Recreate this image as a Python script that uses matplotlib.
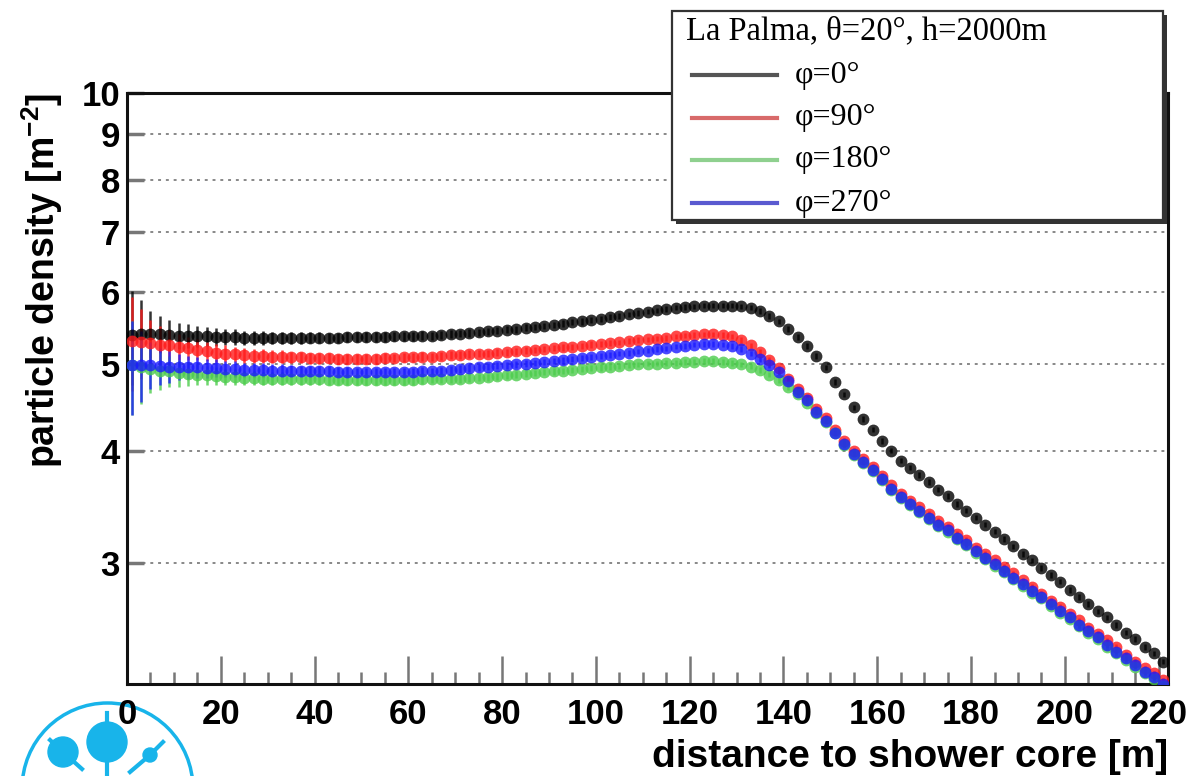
import matplotlib
matplotlib.use("Agg")
import matplotlib.pyplot as plt
from matplotlib.lines import Line2D
from matplotlib.patches import Rectangle, Circle
import numpy as np

plt.rcParams['font.family'] = ['Liberation Sans', 'DejaVu Sans']
plt.rcParams['mathtext.fontset'] = 'custom'
plt.rcParams['mathtext.rm'] = 'Liberation Sans:bold'
plt.rcParams['mathtext.bf'] = 'Liberation Sans:bold'

# ---------------- data ----------------
distance = [1, 3, 5, 7, 9, 11, 13, 15, 17, 19,
            21, 23, 25, 27, 29, 31, 33, 35, 37, 39,
            41, 43, 45, 47, 49, 51, 53, 55, 57, 59,
            61, 63, 65, 67, 69, 71, 73, 75, 77, 79,
            81, 83, 85, 87, 89, 91, 93, 95, 97, 99,
            101, 103, 105, 107, 109, 111, 113, 115, 117, 119,
            121, 123, 125, 127, 129, 131, 133, 135, 137, 139,
            141, 143, 145, 147, 149, 151, 153, 155, 157, 159,
            161, 163, 165, 167, 169, 171, 173, 175, 177, 179,
            181, 183, 185, 187, 189, 191, 193, 195, 197, 199,
            201, 203, 205, 207, 209, 211, 213, 215, 217, 219,
            221]

phi0 = [5.38, 5.40, 5.40, 5.39, 5.38, 5.37, 5.37, 5.36, 5.36, 5.35,
        5.35, 5.35, 5.34, 5.34, 5.34, 5.34, 5.34, 5.34, 5.34, 5.34,
        5.34, 5.34, 5.34, 5.35, 5.35, 5.35, 5.35, 5.35, 5.36, 5.36,
        5.36, 5.37, 5.37, 5.38, 5.39, 5.40, 5.41, 5.42, 5.43, 5.44,
        5.45, 5.46, 5.48, 5.49, 5.51, 5.52, 5.54, 5.56, 5.57, 5.59,
        5.61, 5.63, 5.65, 5.67, 5.69, 5.71, 5.73, 5.75, 5.77, 5.78,
        5.79, 5.80, 5.80, 5.80, 5.80, 5.79, 5.77, 5.72, 5.65, 5.57,
        5.46, 5.35, 5.23, 5.10, 4.95, 4.77, 4.62, 4.47, 4.34, 4.22,
        4.10, 4.00, 3.90, 3.83, 3.76, 3.69, 3.62, 3.56, 3.49, 3.43,
        3.37, 3.31, 3.25, 3.19, 3.13, 3.07, 3.02, 2.96, 2.91, 2.86,
        2.80, 2.75, 2.70, 2.65, 2.61, 2.56, 2.51, 2.47, 2.42, 2.38,
        2.33]

phi90 = [5.30, 5.28, 5.27, 5.25, 5.24, 5.22, 5.20, 5.18, 5.16, 5.14,
         5.13, 5.12, 5.11, 5.10, 5.10, 5.09, 5.09, 5.08, 5.08, 5.07,
         5.07, 5.07, 5.06, 5.06, 5.06, 5.06, 5.06, 5.07, 5.07, 5.08,
         5.08, 5.09, 5.09, 5.10, 5.11, 5.11, 5.12, 5.13, 5.13, 5.14,
         5.15, 5.16, 5.17, 5.18, 5.19, 5.20, 5.21, 5.22, 5.23, 5.25,
         5.26, 5.27, 5.28, 5.30, 5.31, 5.32, 5.33, 5.34, 5.36, 5.37,
         5.38, 5.39, 5.39, 5.38, 5.36, 5.31, 5.24, 5.15, 5.05, 4.94,
         4.81, 4.68, 4.58, 4.45, 4.35, 4.22, 4.10, 4.00, 3.92, 3.84,
         3.75, 3.66, 3.58, 3.52, 3.46, 3.40, 3.34, 3.29, 3.23, 3.18,
         3.12, 3.07, 3.02, 2.97, 2.92, 2.87, 2.82, 2.77, 2.72, 2.68,
         2.63, 2.59, 2.54, 2.50, 2.46, 2.42, 2.37, 2.33, 2.29, 2.26,
         2.22]

phi180 = [4.98, 4.95, 4.93, 4.91, 4.90, 4.88, 4.87, 4.86, 4.85, 4.84,
          4.83, 4.83, 4.82, 4.82, 4.81, 4.81, 4.81, 4.80, 4.80, 4.80,
          4.80, 4.79, 4.79, 4.79, 4.79, 4.79, 4.79, 4.79, 4.79, 4.79,
          4.79, 4.80, 4.80, 4.80, 4.81, 4.81, 4.82, 4.82, 4.83, 4.84,
          4.85, 4.86, 4.87, 4.88, 4.89, 4.90, 4.91, 4.92, 4.93, 4.94,
          4.95, 4.96, 4.97, 4.98, 4.99, 5.00, 5.00, 5.01, 5.01, 5.02,
          5.02, 5.03, 5.03, 5.02, 5.01, 4.99, 4.96, 4.92, 4.86, 4.79,
          4.71, 4.62, 4.52, 4.41, 4.31, 4.18, 4.06, 3.96, 3.88, 3.80,
          3.71, 3.62, 3.54, 3.48, 3.42, 3.36, 3.30, 3.25, 3.19, 3.14,
          3.08, 3.03, 2.98, 2.93, 2.88, 2.83, 2.78, 2.74, 2.69, 2.64,
          2.60, 2.55, 2.51, 2.47, 2.42, 2.38, 2.34, 2.30, 2.26, 2.23,
          2.19]

phi270 = [4.98, 4.98, 4.98, 4.97, 4.96, 4.96, 4.95, 4.95, 4.94, 4.94,
          4.93, 4.93, 4.92, 4.92, 4.92, 4.91, 4.91, 4.91, 4.90, 4.90,
          4.90, 4.90, 4.89, 4.89, 4.89, 4.89, 4.89, 4.89, 4.89, 4.89,
          4.89, 4.90, 4.90, 4.91, 4.92, 4.93, 4.94, 4.95, 4.96, 4.97,
          4.98, 4.99, 5.00, 5.01, 5.02, 5.03, 5.04, 5.06, 5.07, 5.08,
          5.10, 5.11, 5.13, 5.14, 5.16, 5.17, 5.19, 5.20, 5.22, 5.23,
          5.25, 5.26, 5.26, 5.25, 5.23, 5.19, 5.13, 5.06, 4.98, 4.89,
          4.78, 4.65, 4.55, 4.42, 4.32, 4.19, 4.07, 3.97, 3.89, 3.81,
          3.72, 3.63, 3.55, 3.49, 3.43, 3.37, 3.31, 3.26, 3.20, 3.15,
          3.09, 3.04, 2.99, 2.94, 2.89, 2.84, 2.79, 2.75, 2.70, 2.65,
          2.61, 2.56, 2.52, 2.48, 2.43, 2.39, 2.35, 2.31, 2.27, 2.24,
          2.20]

# relative statistical uncertainty per bin
rel_err = [0.120, 0.090, 0.060, 0.048, 0.040, 0.034, 0.030, 0.027, 0.025, 0.023,
           0.021, 0.020, 0.019, 0.018, 0.017, 0.016, 0.016, 0.015, 0.015, 0.014,
           0.014, 0.013, 0.013, 0.013, 0.012, 0.012, 0.012, 0.012, 0.011, 0.011,
           0.011, 0.011, 0.010, 0.010, 0.010, 0.010, 0.010, 0.009, 0.009, 0.009,
           0.009, 0.009, 0.009, 0.008, 0.008, 0.008, 0.008, 0.008, 0.008, 0.008,
           0.008, 0.008, 0.007, 0.007, 0.007, 0.007, 0.007, 0.007, 0.007, 0.007,
           0.007, 0.007, 0.007, 0.007, 0.007, 0.007, 0.007, 0.007, 0.007, 0.007,
           0.007, 0.007, 0.007, 0.007, 0.007, 0.007, 0.007, 0.007, 0.007, 0.007,
           0.007, 0.007, 0.007, 0.007, 0.007, 0.007, 0.007, 0.007, 0.007, 0.007,
           0.007, 0.007, 0.007, 0.007, 0.007, 0.007, 0.007, 0.007, 0.007, 0.007,
           0.007, 0.007, 0.007, 0.007, 0.007, 0.007, 0.007, 0.007, 0.007, 0.007,
           0.007]

series_labels = ["φ=0°", "φ=90°", "φ=180°", "φ=270°"]
series_values = [phi0, phi90, phi180, phi270]
series_colors = ["#000000", "#ff1a1a", "#4ccc4c", "#1a1aff"]
legend_colors = ["#555555", "#d86a6a", "#8fd08f", "#5a5ad0"]
legend_title = "La Palma, θ=20°, h=2000m"

x_ticks = [0, 20, 40, 60, 80, 100, 120, 140, 160, 180, 200, 220]
y_ticks = [3, 4, 5, 6, 7, 8, 9, 10]

# ---------------- figure ----------------
W, H = 1195, 776
fig = plt.figure(figsize=(W / 100, H / 100), dpi=100)
ax = fig.add_axes([127 / W, 1 - 684 / H, (1168 - 127) / W, (684 - 93) / H])

ax.set_yscale('log')
ax.set_xlim(0, 222)
ax.set_ylim(2.2, 10)

x = np.array(distance, dtype=float)
err = np.array(rel_err)
for vals, col in zip(series_values, series_colors):
    v = np.array(vals)
    ax.errorbar(x, v, yerr=v * err, fmt='o', color=col, ms=8.5, mew=0,
                alpha=0.8, elinewidth=1.8, capsize=3.5, capthick=1.8, zorder=3)

# grid: dotted horizontal lines
for yv in y_ticks[:-1]:
    ax.axhline(yv, color='#888888', ls=(0, (1.5, 2.5)), lw=1.4, zorder=1)

ax.yaxis.set_major_locator(matplotlib.ticker.FixedLocator(y_ticks))
ax.yaxis.set_minor_locator(matplotlib.ticker.NullLocator())
ax.set_yticklabels([str(t) for t in y_ticks])
ax.set_xticks(x_ticks)
ax.set_xticks(np.arange(0, 222, 5), minor=True)
ax.set_xticklabels([str(t) for t in x_ticks])

ax.tick_params(axis='y', which='major', direction='in', length=12, width=2.5,
               color='#777777', labelsize=25, pad=5, right=False)
ax.tick_params(axis='x', which='major', direction='in', length=20, width=1.8,
               color='#777777', labelsize=25, pad=10, top=False)
ax.tick_params(axis='x', which='minor', direction='in', length=9, width=1.8,
               color='#777777', top=False)
for lab in ax.get_xticklabels() + ax.get_yticklabels():
    lab.set_fontweight('bold')

for sp in ax.spines.values():
    sp.set_linewidth(2.2)
    sp.set_color('#111111')

ax.set_xlabel('distance to shower core [m]', fontsize=28, fontweight='bold',
              ha='right', x=1.0, labelpad=6)
ax.set_ylabel(r'particle density [m$^{\mathbf{-2}}$]', fontsize=27,
              fontweight='bold', ha='right', y=1.0, labelpad=12)

# ---------------- legend (ROOT style box with shadow) ----------------
lx0, lx1, ly0, ly1 = 672, 1163, 11, 220


def fx(px):
    return px / W


def fy(py):
    return 1 - py / H


shadow = Rectangle((fx(lx0 + 4), fy(ly1 + 4)), fx(lx1 - lx0), (ly1 - ly0) / H,
                   transform=fig.transFigure, facecolor='#333333',
                   edgecolor='none', zorder=10)
box = Rectangle((fx(lx0), fy(ly1)), fx(lx1 - lx0), (ly1 - ly0) / H,
                transform=fig.transFigure, facecolor='white',
                edgecolor='#333333', lw=1.6, zorder=11)
fig.add_artist(shadow)
fig.add_artist(box)
fig.text(fx(686), fy(31), legend_title, family=['Liberation Serif', 'DejaVu Serif'],
         fontsize=23.5, va='center', ha='left', zorder=12)
row_y = [75, 118, 160, 203]
for lab, col, ry in zip(series_labels, legend_colors, row_y):
    fig.add_artist(Line2D([fx(692), fx(777)], [fy(ry), fy(ry)],
                          transform=fig.transFigure, color=col, lw=3, zorder=12))
    fig.text(fx(795), fy(ry), lab, family=['Liberation Serif', 'DejaVu Serif'],
             fontsize=23, va='center', ha='left', zorder=12)

# ---------------- logo fragment (bottom left) ----------------
logo_col = '#18b4ea'
lax = fig.add_axes([0, 0, 200 / W, 100 / H], zorder=-1)
lax.set_xlim(0, 200)
lax.set_ylim(100, 0)  # pixel-like coords measured from y=676 downwards
lax.axis('off')
lax.add_patch(Circle((107.5, 112.4), 85.4, fill=False, ec=logo_col, lw=2.5))
lax.add_patch(Circle((107, 66), 20, color=logo_col))
lax.add_patch(Circle((63, 76), 15, color=logo_col))
lax.add_patch(Circle((150, 79), 7, color=logo_col))
lax.plot([107, 107], [37, 66], color=logo_col, lw=3)
lax.plot([107, 107], [80, 100], color=logo_col, lw=3)
lax.plot([50, 63, 82], [64, 76, 93], color=logo_col, lw=3)
lax.plot([163, 150, 130], [66, 79, 96], color=logo_col, lw=3)

fig.savefig('out.png', dpi=100)
